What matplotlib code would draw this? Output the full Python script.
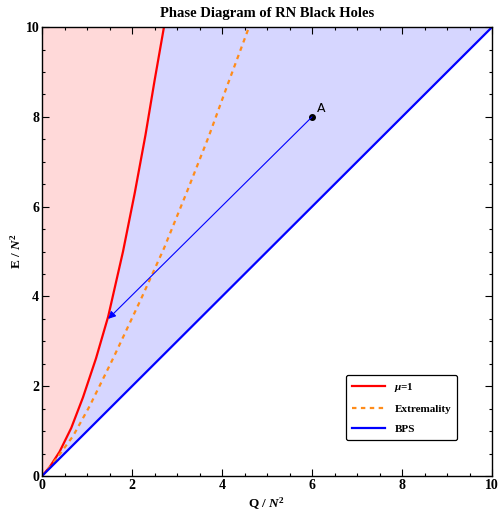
import matplotlib
matplotlib.use("Agg")
import matplotlib.pyplot as plt
import numpy as np
from matplotlib.ticker import MultipleLocator

# mu = 1 curve (Q, E)
q_mu = [0.0, 0.17, 0.39, 0.65, 0.91, 1.20, 1.47, 1.80, 2.06, 2.30, 2.50, 2.71]
e_mu = [0.0, 0.20, 0.54, 1.07, 1.75, 2.62, 3.55, 5.00, 6.30, 7.60, 8.80, 10.0]

# extremality curve
q_ext = [0.0, 0.20, 0.39, 0.69, 1.06, 1.58, 2.19, 2.71, 3.22, 3.70, 4.14, 4.60]
e_ext = [0.0, 0.22, 0.48, 0.89, 1.56, 2.62, 3.92, 5.07, 6.33, 7.55, 8.76, 10.0]

# BPS line E = Q
q_bps = [0, 10]
e_bps = [0, 10]

point_a = (6.0, 8.0)
arrow_end = (1.47, 3.50)

plt.rcParams['font.family'] = ['Liberation Serif', 'DejaVu Serif']
plt.rcParams['mathtext.fontset'] = 'custom'
plt.rcParams['mathtext.rm'] = 'Liberation Serif:bold'
plt.rcParams['mathtext.it'] = 'Liberation Serif:italic:bold'
plt.rcParams['mathtext.bf'] = 'Liberation Serif:bold'

fig = plt.figure(figsize=(5, 5.12), dpi=100)
ax = fig.add_axes([0.084, 0.0703, 0.9, 0.8767])

q_mu_a = np.array(q_mu)
e_mu_a = np.array(e_mu)
ax.fill_betweenx(e_mu_a, 0, q_mu_a, color='#FFD9D9', lw=0)
ax.fill_betweenx(e_mu_a, q_mu_a, e_mu_a, color='#D6D6FF', lw=0)
ax.fill_between([q_mu[-1], 10], [q_mu[-1], 10], 10, color='#D6D6FF', lw=0)

ax.plot(q_mu, e_mu, color='#FF0000', lw=1.6, label=r'$\mu$=1')
ax.plot(q_ext, e_ext, color='#FF8C1A', lw=1.6, ls=(0, (2, 2)), label='Extremality')
ax.plot(q_bps, e_bps, color='#0000FF', lw=1.6, label='BPS')

ax.annotate('', xy=arrow_end, xytext=point_a,
            arrowprops=dict(arrowstyle='-|>', color='#0000FF', lw=0.8,
                            mutation_scale=11, shrinkA=0, shrinkB=0))
ax.plot(*point_a, 'o', color='black', ms=4)
ax.text(point_a[0] + 0.1, point_a[1] + 0.1, 'A', family='DejaVu Sans', fontsize=9)

ax.set_xlim(0, 10)
ax.set_ylim(0, 10)
ax.xaxis.set_major_locator(MultipleLocator(2))
ax.yaxis.set_major_locator(MultipleLocator(2))
ax.xaxis.set_minor_locator(MultipleLocator(0.5))
ax.yaxis.set_minor_locator(MultipleLocator(0.5))
ax.tick_params(which='both', direction='in', top=True, right=True, width=0.8)
ax.tick_params(which='major', length=5, labelsize=10, pad=2)
ax.tick_params(which='minor', length=2.5)
for lbl in ax.get_xticklabels() + ax.get_yticklabels():
    lbl.set_fontweight('bold')
for s in ax.spines.values():
    s.set_linewidth(1.0)

ax.set_xlabel(r'Q / $N^2$', fontsize=9.5, fontweight='bold', labelpad=3)
ax.set_ylabel(r'E / $N^2$', fontsize=9.5, fontweight='bold', labelpad=1)
ax.set_title('Phase Diagram of RN Black Holes', fontsize=10.5, fontweight='bold', pad=7)

leg = ax.legend(loc='lower right', bbox_to_anchor=(0.935, 0.068),
                prop={'weight': 'bold', 'size': 8}, frameon=True, fancybox=True,
                handlelength=3.0, borderpad=0.55, labelspacing=0.9, edgecolor='black')
leg.get_frame().set_linewidth(0.9)
leg.get_frame().set_alpha(1)

fig.savefig('out.png', dpi=100)
